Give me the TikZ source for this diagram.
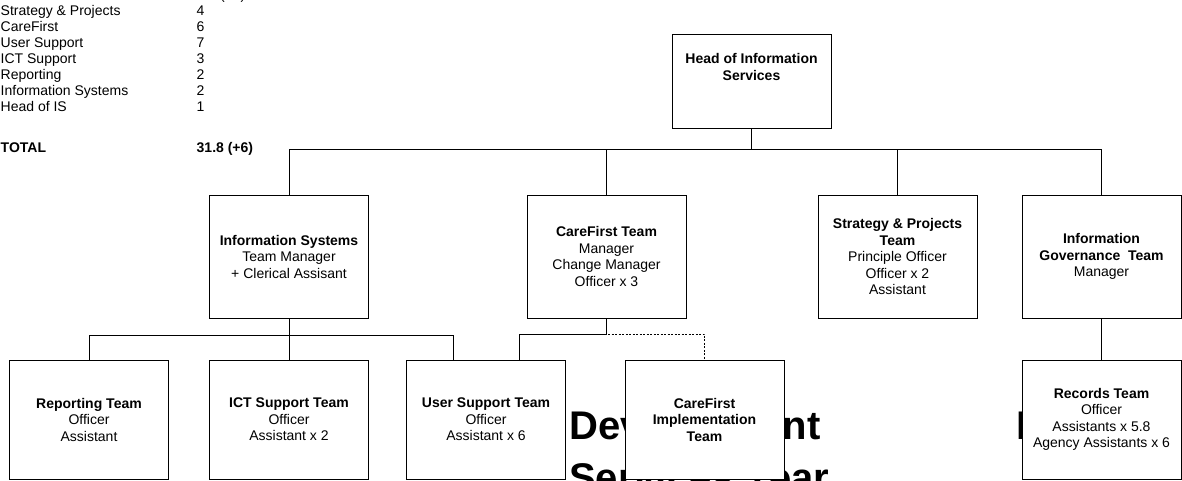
\documentclass[tikz,border=0pt]{standalone}
\usepackage{fontspec}
\setmainfont{Liberation Sans}
\usetikzlibrary{positioning}

\newcommand{\chartfont}{\fontsize{14}{16.5}\selectfont}
\newcommand{\tablefont}{\fontsize{14}{16}\selectfont}
\newcommand{\bannerfont}{\fontsize{40}{52}\selectfont\bfseries}

\tikzstyle{unit} = [rectangle, minimum width=159pt, minimum height=123pt, text centered, align=center, inner sep=0pt, draw=black, line width=0.9pt, fill=white, font=\chartfont]
\tikzstyle{team} = [unit, minimum height=119pt]
\tikzstyle{headline} = [align=center, anchor=north, inner sep=0pt, yshift=-20pt, font=\chartfont\bfseries]
\tikzstyle{banner} = [anchor=base west, inner sep=0pt, font=\bannerfont]
\tikzstyle{link} = [line width=0.8pt]
\tikzstyle{dotlink} = [link, dash pattern=on 2pt off 1.5pt]

\begin{document}
\begin{tikzpicture}[x=1pt, y=-1pt, node distance=175.5pt]
\useasboundingbox (0,0) rectangle (1182,481);

% staff numbers per team
\node (fte) [anchor=base west, inner sep=0pt, font=\tablefont] at (0.5,0) {%
  \begin{tabular}[t]{@{}p{196pt}@{}l@{}}
  Information Governance & 6.8 (+6)\\
  Strategy \& Projects & 4\\
  CareFirst & 6\\
  User Support & 7\\
  ICT Support & 3\\
  Reporting & 2\\
  Information Systems & 2\\
  Head of IS & 1\\[25pt]
  \textbf{TOTAL} & \textbf{31.8 (+6)}
  \end{tabular}};

% heading text sits behind the boxes
\node (banner1) [banner] at (569,439) {Development};
\node (banner2) [banner] at (569,491) {Services Year};
\node (banner3) [banner] at (1016,439) {Information};

\node (head) [unit, minimum height=94pt, label={[headline]north:Head of Information\\Services}] at (751.5,81) {};

\node (infosys) [unit, below of=head, xshift=-462.5pt] {\textbf{Information Systems}\\Team Manager\\+ Clerical Assisant};
\node (carefirst) [unit, below of=head, xshift=-145pt] {\textbf{CareFirst Team}\\Manager\\Change Manager\\Officer x 3};
\node (strategy) [unit, below of=head, xshift=146pt] {\textbf{Strategy \& Projects}\\\textbf{Team}\\Principle Officer\\Officer x 2\\Assistant};
\node (infogov) [unit, below of=head, xshift=350pt] {\textbf{Information}\\\textbf{Governance\ \ Team}\\Manager};

\node (reporting) [team, below of=infosys, node distance=163pt, xshift=-200pt] {\textbf{Reporting Team}\\Officer\\Assistant};
\node (ict) [team, below of=infosys, node distance=163pt] {\textbf{ICT Support Team}\\Officer\\Assistant x 2};
\node (usersup) [team, below of=infosys, node distance=163pt, xshift=197pt] {\textbf{User Support Team}\\Officer\\Assistant x 6};
\node (impl) [team, below of=carefirst, node distance=163pt, xshift=98pt] {\textbf{CareFirst}\\\textbf{Implementation}\\\textbf{Team}};
\node (records) [team, below of=infogov, node distance=163pt] {\textbf{Records Team}\\Officer\\Assistants x 5.8\\Agency Assistants x 6};

\draw [link] (head.south) -- ++(0,21) -| (infosys.north);
\draw [link] (head.south) -- ++(0,21) -| (carefirst.north);
\draw [link] (head.south) -- ++(0,21) -| (strategy.north);
\draw [link] (head.south) -- ++(0,21) -| (infogov.north);

\draw [link] (infosys.south) -- ++(0,17) -| (reporting.north);
\draw [link] (infosys.south) -- (ict.north);
\draw [link] (infosys.south) -- ++(0,17) -| ([xshift=-33pt]usersup.north);
\draw [link] (carefirst.south) -- ++(0,16) -| ([xshift=33pt]usersup.north);
\draw [dotlink] (carefirst.south) -- ++(0,16) -| (impl.north);
\draw [link] (infogov.south) -- (records.north);

\end{tikzpicture}
\end{document}
